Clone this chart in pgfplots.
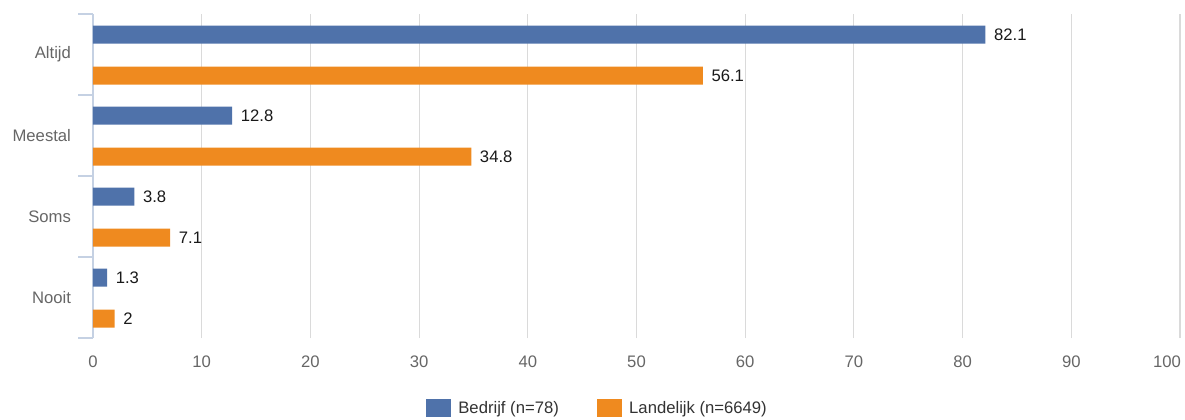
\documentclass[border=0pt]{standalone}
\usepackage{pgfplots}
\pgfplotsset{compat=1.18}
\usepackage{fontspec}
\setmainfont{Liberation Sans}
\definecolor{cblue}{HTML}{4F72AA}
\definecolor{corange}{HTML}{EF8A1F}
\definecolor{gridc}{HTML}{DADADA}
\definecolor{axc}{HTML}{C5D1E3}
\definecolor{labc}{HTML}{666666}
\begin{document}
\begin{tikzpicture}
\begin{axis}[
  at={(0,0)}, anchor=south west,
  scale only axis, width=815.25pt, height=243pt,
  xbar, bar width=13.5pt,
  xmin=0, xmax=100, ymin=-0.5, ymax=3.5,
  xtick={0,10,...,90},
  extra x ticks={100},
  extra x tick style={xticklabel style={xshift=-9.75pt}},
  xmajorgrids, grid style={gridc, line width=0.8pt},
  axis y line=left, axis x line=bottom,
  axis line style={-},
  x axis line style={draw=none},
  y axis line style={axc, line width=0.8pt},
  ytick={0,1,2,3},
  yticklabels={Nooit,Soms,Meestal,Altijd},
  minor ytick={-0.5,0.5,1.5,2.5,3.5},
  major tick length=0pt,
  minor tick length=11.25pt,
  tick align=outside,
  every minor tick/.style={axc, line width=0.8pt},
  yticklabel style={font=\fontsize{12.5}{14}\selectfont, text=labc, xshift=-13pt},
  xticklabel style={font=\fontsize{12.5}{14}\selectfont, text=labc, yshift=-10pt},
  /pgf/number format/assume math mode=true,
  nodes near coords,
  nodes near coords style={font=\fontsize{12.5}{14}\selectfont, text=black!90, anchor=west, xshift=3pt},
  legend style={at={(0.4665,-0.216)}, anchor=center, draw=none, legend columns=2,
    font=\fontsize{12.5}{14}\selectfont, text=black!80,
    /tikz/every even column/.append style={column sep=23pt},
    /tikz/every node/.append style={inner xsep=5.5pt}},
  legend image code/.code={\fill[#1] (0pt,-6.4pt) rectangle (18.75pt,6.4pt);},
]
\addplot[fill=cblue, draw=none, bar shift=15pt] coordinates {(82.1,3) (12.8,2) (3.8,1) (1.3,0)};
\addlegendentry{Bedrijf (n=78)}
\addplot[fill=corange, draw=none, bar shift=-15.75pt] coordinates {(56.1,3) (34.8,2) (7.1,1) (2,0)};
\addlegendentry{Landelijk (n=6649)}
\end{axis}
\pgfresetboundingbox
\path[use as bounding box] (-69.75pt,-60.75pt) rectangle (819pt,253.5pt);
\end{tikzpicture}
\end{document}
